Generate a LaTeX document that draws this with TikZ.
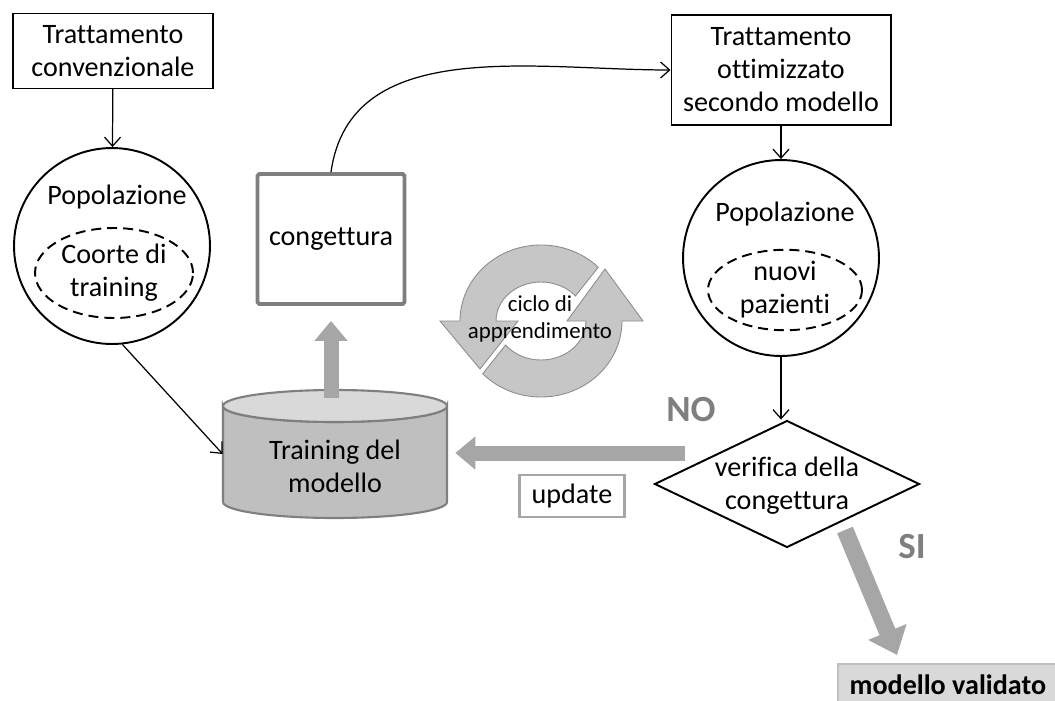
\documentclass[tikz,border=0pt]{standalone}
\usepackage{fontspec}
\setmainfont{Carlito}[Ligatures=NoCommon]
\usepackage{tikz}
\usetikzlibrary{shapes.geometric,arrows.meta,positioning}
\definecolor{arrowGray}{HTML}{A6A6A6}
\definecolor{borderGray}{HTML}{7F7F7F}
\definecolor{drumBody}{HTML}{BFBFBF}
\definecolor{drumTop}{HTML}{D9D9D9}
\definecolor{cycleFill}{HTML}{C6C6C6}
\definecolor{cycleEdge}{HTML}{8C8C8C}
\tikzset{
	box/.style = {draw, line width=0.6pt, align=center, inner sep=0pt},
	popCircle/.style = {draw, circle, line width=1.1pt, minimum size=3.92cm, inner sep=0pt},
	cohort/.style = {draw, ellipse, line width=1.1pt, dash pattern=on 0.2cm off 0.12cm, align=center, inner sep=0pt},
	thinArrow/.style = {-{Straight Barb[length=1.8mm, width=3.2mm]}, line width=0.7pt},
	grayArrow/.style = {arrowGray, line width=0.3cm, -{Triangle[length=0.4cm, width=0.64cm]}},
	answer/.style = {text=borderGray, font=\fontsize{21}{24}\selectfont\bfseries},
	drum/.style = {draw=borderGray, line width=1.2pt},
}

\begin{document}
\begin{tikzpicture}[x=0.02cm, y=-0.02cm, every node/.append style={font=\fontsize{16}{18.8}\selectfont}]%
		\useasboundingbox (0, 0) rectangle (1055, 700);

		% left side: conventional treatment
		\node[box, minimum width=4cm, minimum height=1.5cm] (tratConv) at (113, 51) {Trattamento\\convenzionale};
		\node[popCircle] (popConv) at (112, 246) {};
		\node (popConvLbl) at (117, 197) {Popolazione};
		\node[cohort, minimum width=3.16cm, minimum height=1.8cm] (coorte) at (114, 273) {Coorte di\\training};

		% model (drum drawn by hand round the node)
		\filldraw[drum, fill=drumBody] (223, 406) -- (223, 502) arc[start angle=180, end angle=0, x radius=112, y radius=16] -- (447, 406) arc[start angle=0, end angle=180, x radius=112, y radius=16] -- cycle;
		\filldraw[drum, fill=drumTop] (335, 406) ellipse[x radius=112, y radius=16];
		\node[minimum width=4.48cm, minimum height=2.56cm, inner sep=0pt,
			label={[align=center, yshift=-0.24cm]center:Training del\\modello}] (training) at (335, 454) {};
		\node[box, draw=borderGray, line width=2.2pt, rounded corners=1pt, minimum width=2.94cm, minimum height=2.6cm] (congettura) at (331, 239) {congettura};
		\node[box, draw=arrowGray, line width=1.2pt, minimum width=2.1cm, minimum height=0.84cm] (update) at (572, 496) {update};

		% learning cycle
		\begin{scope}[shift={(541, 321)}, x=0.02cm, y=0.02cm, fill=cycleFill, draw=cycleEdge, line width=0.5pt]
			\filldraw ({81*cos(45)}, {76*sin(45)}) arc[start angle=45, end angle=180, x radius=81, y radius=76] -- (-101, 0) -- (-61, -48) -- (-23, 0) -- (-45, 0) arc[start angle=180, end angle=40, x radius=45, y radius=39] -- cycle;
			\filldraw ({81*cos(224)}, {76*sin(224)}) arc[start angle=224, end angle=360, x radius=81, y radius=76] -- (102, 0) -- (64, 52) -- (26, 0) -- (45, 0) arc[start angle=360, end angle=218, x radius=45, y radius=39] -- cycle;
		\end{scope}
		\node[font=\fontsize{13}{15.5}\selectfont, align=center] (ciclo) at (540, 319) {ciclo di\\apprendimento};

		% right side: optimised treatment
		\node[box, minimum width=4.4cm, minimum height=2.2cm] (tratOtt) at (781, 70) {Trattamento\\ottimizzato\\secondo modello};
		\node[popCircle] (popNuovi) at (781, 258) {};
		\node (popNuoviLbl) at (785, 214) {Popolazione};
		\node[cohort, minimum width=3.08cm, minimum height=1.4cm] (nuovi) at (785, 290) {nuovi\\pazienti};
		\node[diamond, draw, line width=1.1pt, minimum width=5.3cm, minimum height=2.54cm, inner sep=0pt] (verifica) at (787, 484) {};
		\node[align=center] (verificaLbl) at (787, 486) {verifica della\\congettura};

		\node[answer] (no) at (691, 410) {NO};
		\node[answer] (si) at (912, 547) {SI};
		\node[draw=drumBody, fill=drumTop, line width=1pt, font=\fontsize{16}{18.8}\selectfont\bfseries,
			minimum width=4.4cm, minimum height=0.84cm, anchor=north west] (validato) at (837, 663) {modello validato};

		% connectors
		\coordinate (noStart) at (685, 453);
		\coordinate (siStart) at (845, 530);
		\coordinate (siEnd) at (897, 655);
		\draw[thinArrow] (tratConv) -- (popConv);
		\draw[thinArrow] (popConv.-84) -- (training.west);
		\draw[thinArrow] (congettura.north) to[out=82, in=180] (tratOtt.west);
		\draw[thinArrow] (tratOtt) -- (popNuovi);
		\draw[thinArrow] (popNuovi.south) -- (popNuovi.south |- verifica.north);
		\draw[grayArrow] (noStart) -- ([xshift=0.16cm]noStart -| training.east);
		\draw[grayArrow, shorten <=-0.16cm, shorten >=0.3cm] (congettura.south |- training.north) -- (congettura.south);
		\draw[grayArrow, line width=0.34cm, -{Triangle[length=0.5cm, width=0.8cm]}] (siStart) -- (siEnd);
	\end{tikzpicture}
\end{document}
